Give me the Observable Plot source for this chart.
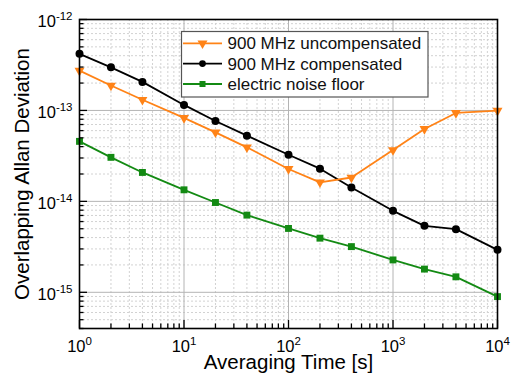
<!DOCTYPE html>
<html><head><meta charset="utf-8">
<script src="https://cdn.jsdelivr.net/npm/d3@7"></script>
<script src="https://cdn.jsdelivr.net/npm/@observablehq/plot@0.6"></script>
<style>body{margin:0;background:#fff} svg{display:block}</style>
</head><body><div id="chart"></div>
<script>
const taus = [1,2,4,10,20,40,100,200,400,1000,2000,4000,10000];
const uncompensated = [2.74e-13,1.88e-13,1.31e-13,8.27e-14,5.74e-14,3.93e-14,2.27e-14,1.62e-14,1.83e-14,3.67e-14,6.25e-14,9.38e-14,9.95e-14];
const compensated = [4.19e-13,2.98e-13,2.06e-13,1.15e-13,7.66e-14,5.28e-14,3.26e-14,2.29e-14,1.42e-14,7.87e-15,5.38e-15,4.95e-15,2.93e-15];
const noiseFloor = [4.57e-14,3.05e-14,2.08e-14,1.34e-14,9.72e-15,7.06e-15,5.04e-15,3.94e-15,3.18e-15,2.27e-15,1.80e-15,1.48e-15,8.97e-16];
const seriesNames = ["900 MHz uncompensated","900 MHz compensated","electric noise floor"];
const xTickValues = [1,10,100,1000,10000];
const xTickLabels = ["10^0","10^1","10^2","10^3","10^4"];
const yTickValues = [1e-15,1e-14,1e-13,1e-12];
const yTickLabels = ["10^-15","10^-14","10^-13","10^-12"];
const xTitle = "Averaging Time [s]";
const yTitle = "Overlapping Allan Deviation";

const ORANGE = "#ff8317", BLACK = "#000000", GREEN = "#138a13";

const xMinor = [];
for (const d of [1,10,100,1000]) for (let k = 2; k < 10; k++) xMinor.push(k*d);
const yMinor = [];
for (const d of [1e-16,1e-15,1e-14,1e-13]) for (let k = 2; k < 10; k++) { const v = k*d; if (v >= 3.99e-16) yMinor.push(v); }

const mk = (vals) => taus.map((t,i) => ({tau: t, value: vals[i]}));
const unc = mk(uncompensated), comp = mk(compensated), noise = mk(noiseFloor);

const W = 511, H = 381, ML = 79, MR = 14, MT = 19, MB = 53;
const PW = W - ML - MR, PH = H - MT - MB;

const svg = Plot.plot({
  width: W, height: H, marginLeft: ML, marginRight: MR, marginTop: MT, marginBottom: MB,
  style: {fontFamily: "'Liberation Sans', Arial, sans-serif", background: "#fff", color: "#000"},
  x: {type: "log", domain: [1, 1e4]},
  y: {type: "log", domain: [4e-16, 1e-12]},
  marks: [
    Plot.ruleX(xMinor, {stroke: "#d2d2d2", strokeDasharray: "2,2"}),
    Plot.ruleY(yMinor, {stroke: "#d2d2d2", strokeDasharray: "2,2"}),
    Plot.ruleX(xTickValues, {stroke: "#b4b4b4"}),
    Plot.ruleY(yTickValues, {stroke: "#b4b4b4"}),
    Plot.line(noise, {x: "tau", y: "value", stroke: GREEN, strokeWidth: 1.8}),
    Plot.line(comp, {x: "tau", y: "value", stroke: BLACK, strokeWidth: 1.8}),
    Plot.line(unc, {x: "tau", y: "value", stroke: ORANGE, strokeWidth: 1.8}),
    Plot.dot(noise, {x: "tau", y: "value", symbol: "square", r: 3.9, fill: GREEN}),
    Plot.dot(comp, {x: "tau", y: "value", symbol: "circle", r: 4, fill: BLACK}),
    Plot.dot(unc, {x: "tau", y: "value", symbol: "triangle", rotate: 180, r: 3.7, fill: ORANGE}),
    Plot.tickX(xTickValues, {x: d => d, insetTop: PH - 8, stroke: "#000", strokeWidth: 1.3}),
    Plot.tickX(xMinor, {x: d => d, insetTop: PH - 4.5, stroke: "#000", strokeWidth: 1.3}),
    Plot.tickY(yTickValues, {y: d => d, insetRight: PW - 8, stroke: "#000", strokeWidth: 1.3}),
    Plot.tickY(yMinor, {y: d => d, insetRight: PW - 4.5, stroke: "#000", strokeWidth: 1.3}),
    Plot.frame({stroke: "#000", strokeWidth: 1.6}),
    Plot.axisX({ticks: xTickValues, tickFormat: d => xTickLabels[xTickValues.indexOf(d)], tickSize: 0, tickPadding: 12, fontSize: 16.5, label: null}),
    Plot.axisY({ticks: yTickValues, tickFormat: d => yTickLabels[yTickValues.findIndex(v => Math.abs(v - d) / v < 1e-6)], tickSize: 0, tickPadding: 7, dy: 2.5, fontSize: 16.5, label: null}),
    Plot.text([xTitle], {text: d => d, frameAnchor: "bottom", textAnchor: "middle", lineAnchor: "middle", dy: 34.4, fontSize: 20.5}),
    Plot.text([yTitle], {text: d => d, frameAnchor: "left", textAnchor: "middle", lineAnchor: "middle", rotate: -90, dx: -57, fontSize: 20.5})
  ]
});

// superscripts for tick labels
d3.select(svg).selectAll("text").each(function() {
  if (this.querySelector("tspan")) return;
  const m = (this.textContent || "").match(/^10\^(.*)$/);
  if (!m) return;
  this.textContent = "10";
  d3.select(this).append("tspan").attr("dy", -7).attr("font-size", "11.5px").text(m[1]);
});

// legend inside the plot
const lg = d3.select(svg).append("g").attr("font-family", "'Liberation Sans', Arial, sans-serif").attr("text-anchor", "start");
lg.append("rect").attr("x", 181.5).attr("y", 31.5).attr("width", 246.5).attr("height", 65.5)
  .attr("fill", "#fff").attr("stroke", "#555").attr("stroke-width", 1.2);
const legendColors = [ORANGE, BLACK, GREEN];
const baselines = [49.3, 69.6, 90];
seriesNames.forEach((name, i) => {
  const cy = baselines[i] - 6;
  const c = legendColors[i];
  lg.append("line").attr("x1", 183).attr("x2", 222).attr("y1", cy).attr("y2", cy).attr("stroke", c).attr("stroke-width", 1.8);
  const sym = i === 0 ? d3.symbolTriangle : i === 1 ? d3.symbolCircle : d3.symbolSquare;
  const r = i === 0 ? 3.7 : 3.4;
  lg.append("path").attr("d", d3.symbol(sym, Math.PI * r * r)())
    .attr("transform", `translate(202.5,${cy})` + (i === 0 ? " rotate(180)" : "")).attr("fill", c);
  lg.append("text").attr("x", 227.5).attr("y", baselines[i]).attr("font-size", 17).attr("fill", "#111").attr("text-anchor", "start").text(name);
});

document.getElementById("chart").appendChild(svg);
</script>
</body></html>
